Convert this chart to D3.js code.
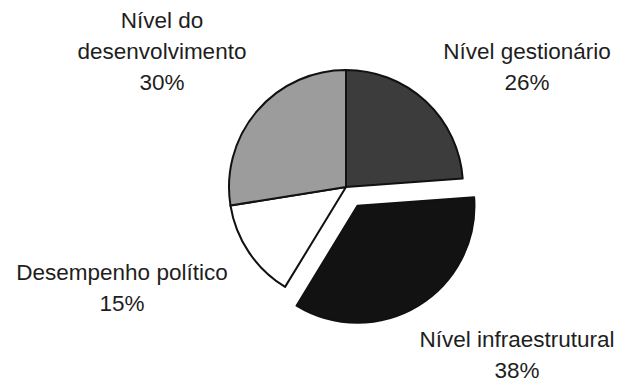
<!DOCTYPE html>
<html>
<head>
<meta charset="utf-8">
<script src="https://cdn.jsdelivr.net/npm/d3@7"></script>
<style>
  html, body { margin: 0; padding: 0; background: #fff; }
  svg { display: block; }
  text { font-family: "Liberation Sans", Arial, sans-serif; fill: #1e1e1e; }
</style>
</head>
<body>
<svg id="chart" width="620" height="383"></svg>
<script>
// Slices in drawing order, clockwise from 12 o'clock
const categories = ["Nível gestionário", "Nível infraestrutural", "Desempenho político", "Nível do desenvolvimento"];
const values = [26, 38, 15, 30];
const fills = ["#3c3c3c", "#121212", "#ffffff", "#9c9c9c"];
const exploded = [false, true, false, false];

// Label blocks: lines of text and where each block sits
const labelLines = [
  ["Nível gestionário", "26%"],
  ["Nível infraestrutural", "38%"],
  ["Desempenho político", "15%"],
  ["Nível do", "desenvolvimento", "30%"]
];
const labelAnchors = [
  [527, 59],
  [517, 347],
  [122, 280],
  [162, 28]
];

const width = 620, height = 383;
const cx = 346, cy = 187, radius = 117, explodeBy = 22;
const lineHeight = 31;

const svg = d3.select("#chart");
const data = categories.map((c, i) => ({ name: c, value: values[i], fill: fills[i], out: exploded[i] }));

const pie = d3.pie().sort(null).value(d => d.value);
const arc = d3.arc().innerRadius(0).outerRadius(radius);

const g = svg.append("g").attr("transform", `translate(${cx},${cy})`);

g.selectAll("path")
  .data(pie(data))
  .join("path")
  .attr("d", arc)
  .attr("fill", d => d.data.fill)
  .attr("stroke", "#111")
  .attr("stroke-width", 2)
  .attr("stroke-linejoin", "round")
  .attr("transform", d => {
    if (!d.data.out) return null;
    const mid = (d.startAngle + d.endAngle) / 2;
    return `translate(${Math.sin(mid) * explodeBy},${-Math.cos(mid) * explodeBy})`;
  });

// Labels
labelLines.forEach((lines, i) => {
  const t = svg.append("text")
    .attr("text-anchor", "middle")
    .attr("font-size", 22.5);
  lines.forEach((line, j) => {
    t.append("tspan")
      .attr("x", labelAnchors[i][0])
      .attr("y", labelAnchors[i][1] + j * lineHeight)
      .text(line);
  });
});
</script>
</body>
</html>
